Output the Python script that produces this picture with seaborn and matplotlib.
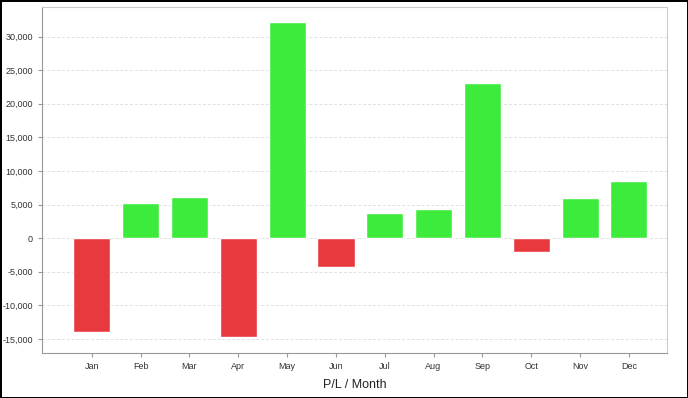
import pandas as pd
import matplotlib.pyplot as plt
import seaborn as sns
from matplotlib.ticker import FuncFormatter

months = ['Jan', 'Feb', 'Mar', 'Apr', 'May', 'Jun', 'Jul', 'Aug', 'Sep', 'Oct', 'Nov', 'Dec']
pl = [-14000, 5200, 6100, -14700, 32100, -4300, 3800, 4400, 23100, -2100, 5900, 8500]

GREEN = '#3deb3d'
RED = '#e8393f'

data = pd.DataFrame({'Month': months, 'PL': pl})

sns.set_style('white')
plt.rcParams['font.family'] = ['Liberation Sans', 'DejaVu Sans']

fig = plt.figure(figsize=(6.88, 3.98), dpi=100, edgecolor='black', linewidth=2)
ax = fig.add_axes([42 / 688, 45 / 398, 625 / 688, 346 / 398])

palette = [GREEN if v >= 0 else RED for v in pl]
sns.barplot(data=data, x='Month', y='PL', hue='Month', palette=palette,
            legend=False, width=0.76, saturation=1, ax=ax, zorder=3)

ax.set_xlim(-1.02, 11.78)
ax.set_ylim(-17100, 34400)
ax.set_yticks(range(-15000, 30001, 5000))
ax.yaxis.set_major_formatter(FuncFormatter(lambda v, _: f'{int(v):,}'))
ax.grid(axis='y', color='#e0e0e0', linestyle=(0, (3, 2)), linewidth=0.7, zorder=0)
ax.set_axisbelow(True)

for side in ['left', 'bottom']:
    ax.spines[side].set_color('#999999')
for side in ['top', 'right']:
    ax.spines[side].set_color('#cccccc')

ax.tick_params(axis='both', labelsize=6.5, colors='#999999', labelcolor='#333333',
               length=3, width=0.8, left=True, bottom=True)
ax.set_ylabel('')
ax.set_xlabel('P/L / Month', fontsize=9, color='#222222', labelpad=6)

fig.savefig('out.png', dpi=100, edgecolor=fig.get_edgecolor())
